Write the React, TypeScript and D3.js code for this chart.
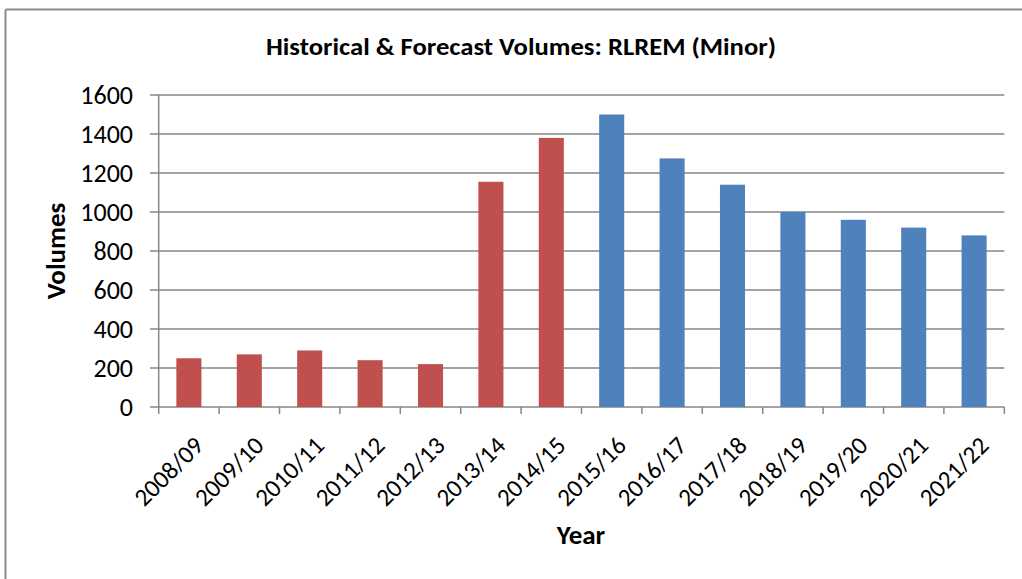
import React from "react";
import * as d3 from "d3";

const categories = [
  "2008/09", "2009/10", "2010/11", "2011/12", "2012/13", "2013/14", "2014/15",
  "2015/16", "2016/17", "2017/18", "2018/19", "2019/20", "2020/21", "2021/22",
];
const values = [250, 270, 290, 240, 220, 1155, 1380, 1500, 1275, 1140, 1000, 960, 920, 880];
const seriesType = ["h", "h", "h", "h", "h", "h", "h", "f", "f", "f", "f", "f", "f", "f"];
const yTicks = [0, 200, 400, 600, 800, 1000, 1200, 1400, 1600];

const W = 1022;
const H = 579;
const FONT = "Carlito, Calibri, 'Open Sans', sans-serif";
const GRID = "#868686";

export default function App() {
  const left = 158.7;
  const right = 1004.3;
  const top = 95;
  const bottom = 407;

  const x = d3.scaleBand<string>().domain(categories).range([left, right]).paddingInner(0.585).paddingOuter(0.2925);
  const xb = d3.scaleBand<string>().domain(categories).range([left, right]);
  const y = d3.scaleLinear().domain([0, 1600]).range([bottom, top]);

  const color = (t: string) => (t === "h" ? "#C0504D" : "#4F81BD");

  return (
    <svg
      width={W}
      height={H}
      style={{ position: "absolute", left: 0, top: 0, background: "#fff" }}
      fontFamily={FONT}
    >
      <rect x={0} y={0} width={W} height={H} fill="#fff" />
      {/* outer frame */}
      <line x1={5.5} y1={9.5} x2={W} y2={9.5} stroke="#8c8c8c" strokeWidth={2} />
      <line x1={5.5} y1={9.5} x2={5.5} y2={H} stroke="#8c8c8c" strokeWidth={2} />

      {/* title */}
      <text x={521} y={55} textAnchor="middle" fontSize={24} fontWeight="bold" fill="#000" textLength={510} lengthAdjust="spacingAndGlyphs">
        Historical &amp; Forecast Volumes: RLREM (Minor)
      </text>

      {/* gridlines */}
      {yTicks.map((t) => (
        <line key={t} x1={150} x2={right} y1={y(t)} y2={y(t)} stroke={GRID} strokeWidth={1.5} />
      ))}
      {/* y axis */}
      <line x1={left} x2={left} y1={top} y2={bottom} stroke={GRID} strokeWidth={1.5} />
      {/* x ticks */}
      {categories.map((c) => (
        <line key={c} x1={xb(c)!} x2={xb(c)!} y1={bottom} y2={bottom + 7} stroke={GRID} strokeWidth={1.5} />
      ))}
      <line x1={right} x2={right} y1={bottom} y2={bottom + 7} stroke={GRID} strokeWidth={1.5} />

      {/* bars */}
      {categories.map((c, i) => (
        <rect
          key={c}
          x={x(c)!}
          y={y(values[i])}
          width={x.bandwidth()}
          height={y(0) - y(values[i])}
          fill={color(seriesType[i])}
        />
      ))}

      {/* y tick labels */}
      {yTicks.map((t) => (
        <text key={t} x={133} y={y(t)} dy="0.34em" textAnchor="end" fontSize={26} fill="#000">
          {t}
        </text>
      ))}

      {/* x tick labels */}
      {categories.map((c) => {
        const cx = xb(c)! + xb.bandwidth() / 2;
        return (
          <text
            key={c}
            transform={`translate(${cx + 10},${441}) rotate(-45)`}
            dy="0.34em"
            textAnchor="end"
            fontSize={25}
            fill="#000"
          >
            {c}
          </text>
        );
      })}

      {/* axis titles */}
      <text transform="translate(65,251) rotate(-90)" textAnchor="middle" fontSize={27} fontWeight="bold" fill="#000">
        Volumes
      </text>
      <text x={581} y={544} textAnchor="middle" fontSize={27} fontWeight="bold" fill="#000">
        Year
      </text>
    </svg>
  );
}
